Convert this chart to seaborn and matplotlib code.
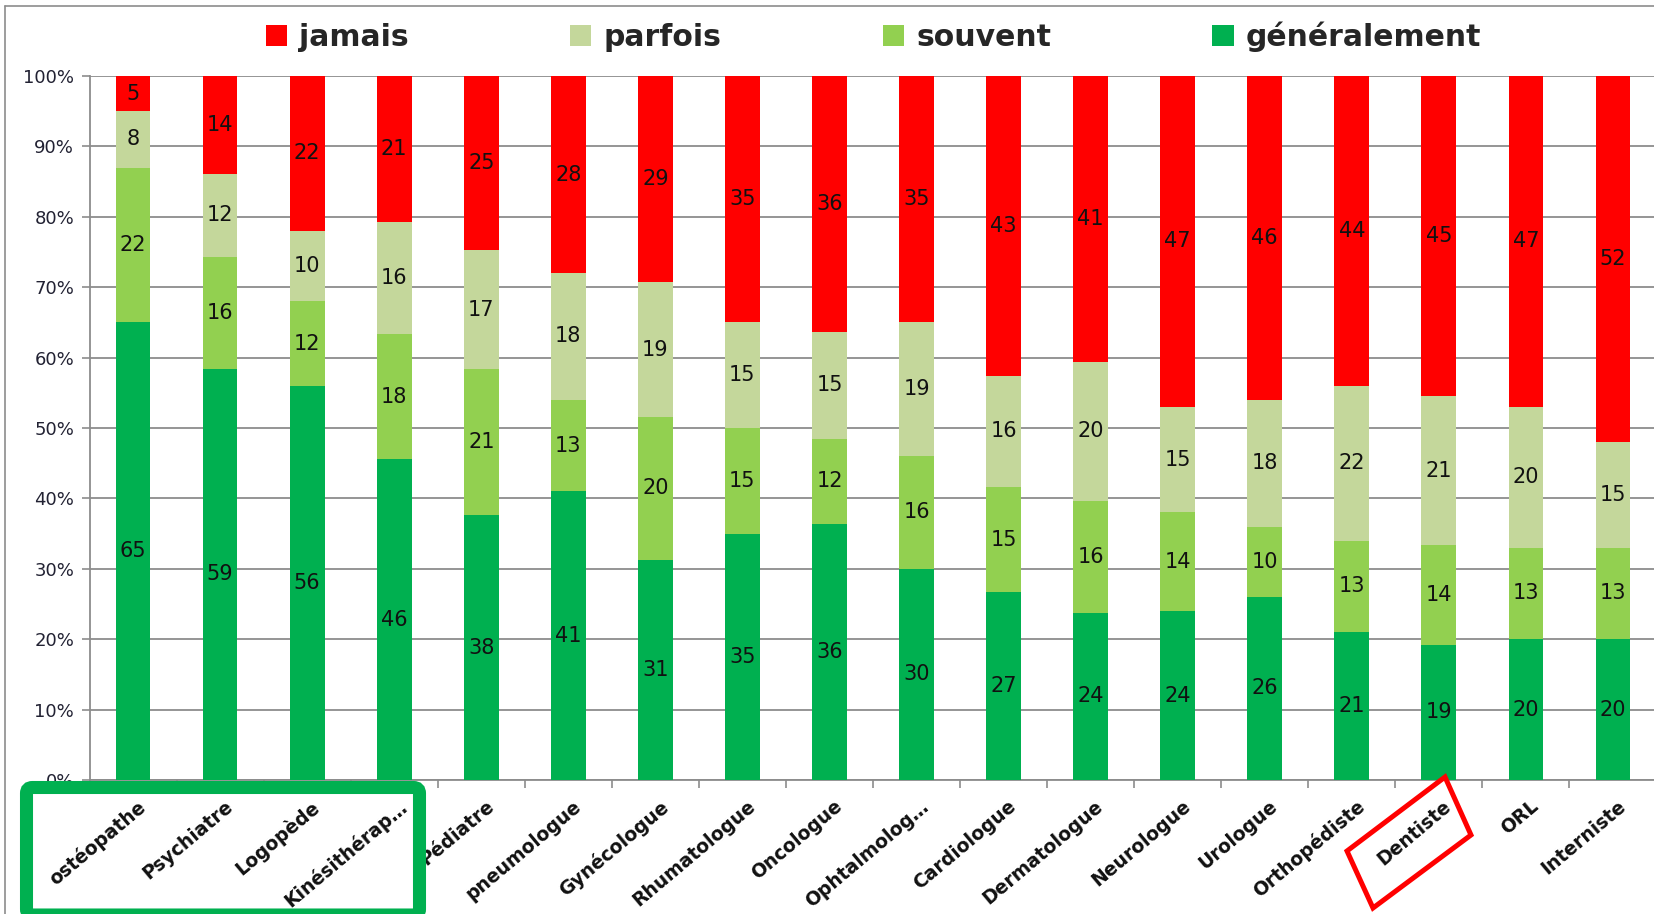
import numpy as np
import pandas as pd
import matplotlib
matplotlib.use("Agg")
import matplotlib.pyplot as plt
import seaborn as sns
from matplotlib.patches import Patch, FancyBboxPatch, Polygon
from matplotlib.lines import Line2D
from matplotlib.transforms import ScaledTranslation

# --- données ---
specialites = ['ostéopathe', 'Psychiatre', 'Logopède', 'Kinésithérap…', 'Pédiatre',
               'pneumologue', 'Gynécologue', 'Rhumatologue', 'Oncologue', 'Ophtalmolog…',
               'Cardiologue', 'Dermatologue', 'Neurologue', 'Urologue', 'Orthopédiste',
               'Dentiste', 'ORL', 'Interniste']
generalement = [65, 59, 56, 46, 38, 41, 31, 35, 36, 30, 27, 24, 24, 26, 21, 19, 20, 20]
souvent = [22, 16, 12, 18, 21, 13, 20, 15, 12, 16, 15, 16, 14, 10, 13, 14, 13, 13]
parfois = [8, 12, 10, 16, 17, 18, 19, 15, 15, 19, 16, 20, 15, 18, 22, 21, 20, 15]
jamais = [5, 14, 22, 21, 25, 28, 29, 35, 36, 35, 43, 41, 47, 46, 44, 45, 47, 52]

niveaux = ['jamais', 'parfois', 'souvent', 'généralement']
couleurs = {'jamais': '#FF0000', 'parfois': '#C4D79B',
            'souvent': '#92D050', 'généralement': '#00B050'}

df = pd.DataFrame({'specialite': specialites, 'généralement': generalement,
                   'souvent': souvent, 'parfois': parfois, 'jamais': jamais})
total = df[niveaux].sum(axis=1)
pct = df[niveaux].div(total, axis=0) * 100

# empilement du bas vers le haut
ordre_pile = ['généralement', 'souvent', 'parfois', 'jamais']
cumul = pct[ordre_pile].cumsum(axis=1)

# --- figure ---
sns.set_style("white")
plt.rcParams['font.family'] = ['DejaVu Sans']
GRIS = '#8c8c8c'

fig = plt.figure(figsize=(16.54, 9.14), dpi=100)
ax = fig.add_axes([89.5 / 1654, 1 - 780 / 914, 1567 / 1654, 704 / 914])

# barres cumulées superposées (de la plus haute à la plus basse)
for niv in ordre_pile[::-1]:
    sns.barplot(x=df['specialite'], y=cumul[niv], color=couleurs[niv], saturation=1,
                width=0.4, linewidth=0, ax=ax, zorder=3)

# étiquettes au centre de chaque segment
for i in range(len(df)):
    base = 0
    for niv in ordre_pile:
        h = pct.loc[i, niv]
        ax.text(i, base + h / 2, f'{df.loc[i, niv]}', ha='center', va='center',
                fontsize=15, color='#111111', zorder=5)
        base += h

ax.set_xlim(-0.5, len(df) - 0.5)
ax.set_ylim(0, 100)
ax.set_yticks(np.arange(0, 101, 10))
ax.set_yticklabels([f'{v}%' for v in range(0, 101, 10)], fontsize=13, color='#222233')
ax.grid(axis='y', color=GRIS, linewidth=1.3, zorder=0)
ax.set_axisbelow(True)
ax.set_xlabel('')
ax.set_ylabel('')
for s in ['top', 'right']:
    ax.spines[s].set_visible(False)
for s in ['left', 'bottom']:
    ax.spines[s].set_color(GRIS)
    ax.spines[s].set_linewidth(1.3)
ax.tick_params(axis='y', length=6, width=1.2, color=GRIS, direction='out', pad=5, left=True)

ax.set_xticks(np.arange(0.5, len(df) - 1, 1), minor=True)
ax.tick_params(axis='x', which='minor', length=6, width=1.2, color=GRIS, bottom=True)
ax.tick_params(axis='x', which='major', length=0, pad=12)
plt.setp(ax.get_xticklabels(), rotation=40, ha='right', rotation_mode='anchor',
         fontsize=13.5, fontweight='bold', color='#111111')
for lbl in ax.get_xticklabels():
    lbl.set_transform(lbl.get_transform() + ScaledTranslation(0.04, 0, fig.dpi_scale_trans))

# légende
handles = [Patch(facecolor=couleurs[n], edgecolor='none', label=n) for n in niveaux]
fig.legend(handles=handles, loc='center', bbox_to_anchor=(0.528, 1 - 37 / 914), ncol=4,
           frameon=False, prop={'weight': 'bold', 'size': 21.5}, handlelength=0.72,
           handleheight=0.72, handletextpad=0.4, columnspacing=5.4)

# cadre extérieur (haut et gauche)
fig.add_artist(Line2D([0.05, 0.05], [0, 9.14 - 0.06], transform=fig.dpi_scale_trans,
                      color=GRIS, linewidth=1.2))
fig.add_artist(Line2D([0.05, 16.54], [9.14 - 0.06, 9.14 - 0.06], transform=fig.dpi_scale_trans,
                      color=GRIS, linewidth=1.2))

# encadré vert autour des quatre premières spécialités
fig.add_artist(FancyBboxPatch((0.265, 9.14 - 9.15), 3.93, 9.15 - 7.875,
                              boxstyle='round,pad=0,rounding_size=0.06',
                              transform=fig.dpi_scale_trans, facecolor='none',
                              edgecolor='#00B050', linewidth=9.4, zorder=10))

# encadré rouge incliné autour de « Dentiste »
coins = np.array([[1445, 777], [1471, 835], [1373, 908], [1347, 851]], dtype=float)
coins_in = np.column_stack([coins[:, 0] / 100, (914 - coins[:, 1]) / 100])
fig.add_artist(Polygon(coins_in, closed=True, transform=fig.dpi_scale_trans,
                       facecolor='none', edgecolor='#FF0000', linewidth=3.6, zorder=10))

fig.savefig('out.png', dpi=100)
